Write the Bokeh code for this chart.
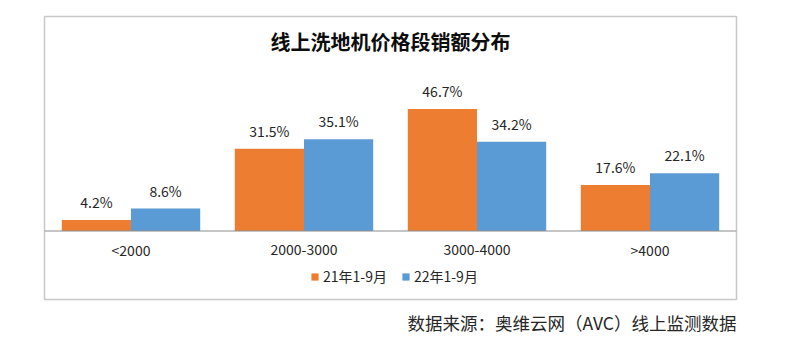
from bokeh.plotting import figure
from bokeh.models import ColumnDataSource, Span, Label, Title, Legend, LegendItem
from bokeh.transform import dodge
from bokeh.embed import file_html
from bokeh.resources import INLINE
from bokeh.core.properties import value

categories = ["<2000", "2000-3000", "3000-4000", ">4000"]
series_names = ["21年1-9月", "22年1-9月"]
values_21 = [4.2, 31.5, 46.7, 17.6]
values_22 = [8.6, 35.1, 34.2, 22.1]
title_text = "线上洗地机价格段销额分布"
source_text = "数据来源：奥维云网（AVC）线上监测数据"

FONT = "Noto Sans CJK SC"
ORANGE = "#ED7D31"
BLUE = "#5B9BD5"

src = ColumnDataSource(dict(
    cat=categories,
    v21=values_21,
    v22=values_22,
    l21=[f"{v:.1f}%" for v in values_21],
    l22=[f"{v:.1f}%" for v in values_22],
    zero=[0] * len(categories),
))

p = figure(width=773, height=343, x_range=categories, y_range=(-26.24, 82.13),
           output_backend="svg", toolbar_location=None,
           min_border_left=44, min_border_right=37, min_border_top=16, min_border_bottom=42)
p.xaxis.visible = False
p.yaxis.visible = False
p.xgrid.visible = False
p.ygrid.visible = False
p.outline_line_color = "#C8C8C8"
p.outline_line_width = 1.5
p.background_fill_color = "white"
p.border_fill_color = "white"

r21 = p.vbar(x=dodge("cat", -0.2, range=p.x_range), top="v21", width=0.4, source=src,
             fill_color=ORANGE, line_color=None)
r22 = p.vbar(x=dodge("cat", 0.2, range=p.x_range), top="v22", width=0.4, source=src,
             fill_color=BLUE, line_color=None)

p.add_layout(Span(location=0, dimension="width", line_color="#8C8C8C", line_width=1.2))

p.text(x=dodge("cat", -0.2, range=p.x_range), y="v21", text="l21", source=src,
       text_align="center", text_baseline="bottom", y_offset=-8,
       text_font=value(FONT), text_font_size="14px", text_color="#262626")
p.text(x=dodge("cat", 0.2, range=p.x_range), y="v22", text="l22", source=src,
       text_align="center", text_baseline="bottom", y_offset=-8,
       text_font=value(FONT), text_font_size="14px", text_color="#262626")
p.text(x="cat", y="zero", text="cat", source=src,
       text_align="center", text_baseline="middle", y_offset=19,
       text_font=value(FONT), text_font_size="14px", text_color="#262626")

p.add_layout(Label(x=346, y=258, x_units="screen", y_units="screen", text=title_text,
                   text_align="center", text_baseline="middle",
                   text_font=FONT, text_font_size="20px", text_font_style="bold",
                   text_color="#0D0D0D"))

legend = Legend(items=[LegendItem(label=series_names[0], renderers=[r21]),
                       LegendItem(label=series_names[1], renderers=[r22])],
                location=(266, 13), orientation="horizontal",
                glyph_width=9, glyph_height=9, label_height=16, label_standoff=4,
                spacing=14, padding=0, margin=0,
                label_text_font=FONT, label_text_font_size="14px", label_text_color="#262626",
                background_fill_alpha=0, border_line_color=None)
p.add_layout(legend)

p.add_layout(Title(text=source_text, align="right", text_font=FONT, text_font_size="17.5px",
                   text_font_style="normal", text_color="#262626", standoff=17), "below")

open("out.html", "w").write(file_html(p, INLINE))
